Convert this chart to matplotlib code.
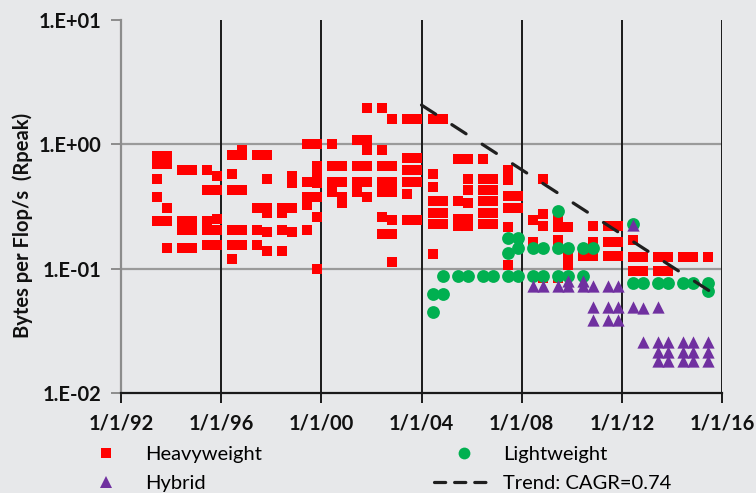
import math
import matplotlib
matplotlib.use("Agg")
import matplotlib.pyplot as plt
from matplotlib.lines import Line2D
from matplotlib import ticker

# TOP500 list dates (decimal years) and bytes per flop/s values
heavy_dates = [1993.44, 1993.84, 1994.44, 1994.84, 1995.44, 1995.84, 1996.44, 1996.84,
               1997.44, 1997.84, 1998.44, 1998.84, 1999.44, 1999.84, 2000.44, 2000.84,
               2001.44, 2001.84, 2002.44, 2002.84, 2003.44, 2003.84, 2004.44, 2004.84,
               2005.44, 2005.84, 2006.44, 2006.84, 2007.44, 2007.84, 2008.44, 2008.84,
               2009.44, 2009.84, 2010.44, 2010.84, 2011.44, 2011.84, 2012.44, 2012.84,
               2013.44, 2013.84, 2014.44, 2014.84, 2015.44]
heavy_vals = [
    [0.81, 0.70, 0.53, 0.38, 0.242],
    [0.81, 0.70, 0.31, 0.242, 0.147],
    [0.62, 0.242, 0.205, 0.147],
    [0.62, 0.242, 0.205, 0.147],
    [0.62, 0.43, 0.242, 0.205, 0.155],
    [0.56, 0.43, 0.25, 0.205, 0.155],
    [0.82, 0.58, 0.43, 0.205, 0.155, 0.12],
    [0.90, 0.82, 0.43, 0.205, 0.155],
    [0.82, 0.31, 0.205, 0.155],
    [0.82, 0.53, 0.31, 0.28, 0.198, 0.139],
    [0.31, 0.28, 0.205, 0.139],
    [0.56, 0.49, 0.31, 0.198],
    [1.0, 0.50, 0.38, 0.326, 0.205],
    [1.0, 0.67, 0.56, 0.49, 0.38, 0.26, 0.1],
    [1.0, 0.67, 0.50, 0.41],
    [0.67, 0.50, 0.38, 0.34],
    [1.08, 0.67, 0.50, 0.41],
    [1.96, 1.08, 0.90, 0.67, 0.50, 0.38],
    [1.96, 0.90, 0.67, 0.50, 0.41, 0.26, 0.19],
    [1.60, 0.67, 0.50, 0.41, 0.247, 0.19, 0.1135],
    [1.60, 0.78, 0.62, 0.50, 0.40, 0.247],
    [1.60, 0.78, 0.62, 0.50, 0.247],
    [1.60, 0.58, 0.45, 0.35, 0.28, 0.229, 0.132],
    [1.60, 0.35, 0.28, 0.229],
    [0.76, 0.35, 0.251, 0.221],
    [0.76, 0.53, 0.43, 0.34, 0.251, 0.221],
    [0.76, 0.53, 0.43, 0.35, 0.28, 0.229],
    [0.53, 0.43, 0.35, 0.28, 0.229],
    [0.62, 0.52, 0.385, 0.308, 0.217, 0.107],
    [0.385, 0.308],
    [0.247, 0.164],
    [0.53, 0.276, 0.221, 0.084],
    [0.247, 0.217, 0.171, 0.084],
    [0.217, 0.129, 0.107],
    [0.127],
    [0.221, 0.164, 0.127],
    [0.221, 0.164, 0.127],
    [0.221, 0.164, 0.127],
    [0.171, 0.124, 0.096],
    [0.124, 0.096],
    [0.124, 0.096],
    [0.124, 0.096],
    [0.124],
    [0.124],
    [0.124],
]

light_dates = [2004.44, 2004.84, 2005.44, 2005.84, 2006.44, 2006.84, 2007.44, 2007.84,
               2008.44, 2008.84, 2009.44, 2009.84, 2010.44, 2010.84, 2012.44, 2012.84,
               2013.44, 2013.84, 2014.44, 2014.84, 2015.44]
light_vals = [
    [0.0627, 0.045],
    [0.0875, 0.0627],
    [0.0875], [0.0875], [0.0875], [0.0875],
    [0.177, 0.134, 0.0875],
    [0.177, 0.147, 0.0875],
    [0.147, 0.0875],
    [0.147, 0.0875],
    [0.292, 0.147, 0.0875],
    [0.147, 0.0875],
    [0.147, 0.0875],
    [0.147],
    [0.229, 0.077],
    [0.077], [0.077], [0.077], [0.077], [0.077],
    [0.077, 0.0663],
]

hybrid_dates = [2008.44, 2008.84, 2009.44, 2009.84, 2010.44, 2010.84, 2011.44, 2011.84,
                2012.44, 2012.84, 2013.44, 2013.84, 2014.44, 2014.84, 2015.44]
hybrid_vals = [
    [0.0728], [0.0728], [0.0728],
    [0.0797, 0.0728],
    [0.0797, 0.0728],
    [0.0728, 0.0493, 0.0388],
    [0.0728, 0.0493, 0.0388],
    [0.0728, 0.0493, 0.0388],
    [0.225, 0.049],
    [0.048, 0.0258],
    [0.049, 0.0258, 0.0214, 0.0182],
    [0.0258, 0.0214, 0.0182],
    [0.0258, 0.0214, 0.0182],
    [0.0258, 0.0214, 0.0182],
    [0.0258, 0.0214, 0.0182],
]

trend_dates = [2004.0, 2016.0]
trend_vals = [2.07, 0.057]

year_ticks = [1992, 1996, 2000, 2004, 2008, 2012, 2016]
year_labels = ['1/1/92', '1/1/96', '1/1/00', '1/1/04', '1/1/08', '1/1/12', '1/1/16']
y_grid = [1.0, 0.1]


def flatten(dates, vals):
    xs = [d for d, vs in zip(dates, vals) for v in vs]
    ys = [v for vs in vals for v in vs]
    return xs, ys


bg = '#e7e8ea'
red = '#ff0000'
green = '#00b050'
purple = '#7030a0'

plt.rcParams['font.family'] = ['Lato', 'DejaVu Sans']

fig = plt.figure(figsize=(7.56, 4.93), dpi=100)
fig.patch.set_facecolor(bg)
ax = fig.add_axes([121 / 756, 1 - 393 / 493, 601 / 756, 373 / 493])
ax.set_facecolor(bg)

hx, hy = flatten(heavy_dates, heavy_vals)
lx, ly = flatten(light_dates, light_vals)
px, py = flatten(hybrid_dates, hybrid_vals)

ax.scatter(hx, hy, marker='s', s=62, color=red, linewidths=0, zorder=3)
ax.scatter(lx, ly, marker='o', s=85, color=green, linewidths=0, zorder=4)
ax.scatter(px, py, marker='^', s=78, color=purple, linewidths=0, zorder=5)
ax.plot(trend_dates, trend_vals, color='#1f1f1f', lw=2.3, dashes=(5.3, 6.0),
        dash_capstyle='round', zorder=6)

ax.set_yscale('log')
ax.set_ylim(0.01, 10)
ax.set_xlim(1992, 2016)

# grid: black verticals, grey horizontals
ax.set_xticks(year_ticks)
ax.set_xticklabels(year_labels)
ax.xaxis.grid(True, color='#1a1a1a', lw=1.4, zorder=1)
for v in y_grid:
    ax.axhline(v, color='#9a9a9a', lw=1.6, zorder=1)

ax.yaxis.set_major_locator(ticker.LogLocator(base=10, numticks=10))
ax.yaxis.set_minor_locator(ticker.NullLocator())
ax.yaxis.set_major_formatter(ticker.FuncFormatter(
    lambda v, p: '1.E{:+03d}'.format(int(round(math.log10(v))))))

for s in ['top', 'right']:
    ax.spines[s].set_visible(False)
ax.spines['left'].set_color('#8c8c8c')
ax.spines['left'].set_linewidth(1.6)
ax.spines['bottom'].set_color('#1a1a1a')
ax.spines['bottom'].set_linewidth(1.6)

ax.tick_params(axis='x', direction='out', length=7, width=1.4, color='#1a1a1a',
               pad=8, labelsize=14.5)
ax.tick_params(axis='y', direction='out', length=7, width=1.4, color='#8c8c8c',
               pad=7, labelsize=14.5)
for lab in ax.get_xticklabels() + ax.get_yticklabels():
    lab.set_fontweight('bold')
    lab.set_color('#111111')

ax.set_ylabel('Bytes per Flop/s  (Rpeak)', fontsize=14.5, fontweight='bold',
              color='#111111')
ax.yaxis.set_label_coords(-0.147, 0.45)

handles = [
    Line2D([], [], marker='s', color=red, ls='none', markersize=7.5, markeredgewidth=0),
    Line2D([], [], marker='^', color=purple, ls='none', markersize=8.5, markeredgewidth=0),
    Line2D([], [], marker='o', color=green, ls='none', markersize=8.5, markeredgewidth=0),
    Line2D([], [], color='#1f1f1f', lw=2.3, dashes=(3.5, 2.8), dash_capstyle='round'),
]
labels = ['Heavyweight', 'Hybrid', 'Lightweight', 'Trend: CAGR=0.74']
fig.legend(handles, labels, ncol=2, loc='upper left', bbox_to_anchor=(76 / 756, 1 - 446 / 493),
           frameon=False, fontsize=14.5, handlelength=3.0, handletextpad=0.45,
           columnspacing=8.5, labelspacing=0.58, borderpad=0, borderaxespad=0)

fig.savefig('out.png', dpi=100, facecolor=bg)
